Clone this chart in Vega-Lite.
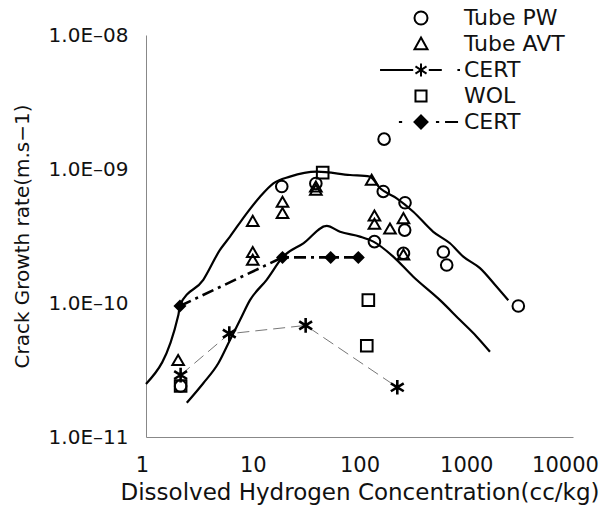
{
  "$schema": "https://vega.github.io/schema/vega-lite/v6.json",
  "width": 427,
  "height": 402,
  "autosize": {"type": "none"},
  "padding": {"left": 146, "top": 35, "right": 26, "bottom": 73},
  "background": "white",
  "config": {
    "view": {"stroke": null},
    "axis": {"grid": false, "ticks": false, "domainColor": "#888", "domainWidth": 1, "labelFont": "DejaVu Sans", "titleFont": "DejaVu Sans", "labelColor": "#111", "titleColor": "#111", "titleFontWeight": "normal"},
    "legend": {"symbolStrokeWidth": 2}
  },
  "datasets": {
    "curves": [
      {"c": "u", "x": 1.0, "y": 2.49e-11},
      {"c": "u", "x": 2.01, "y": 8.13e-11},
      {"c": "u", "x": 2.08, "y": 9.66e-11},
      {"c": "u", "x": 3.44, "y": 1.49e-10},
      {"c": "u", "x": 4.93, "y": 2.49e-10},
      {"c": "u", "x": 6.12, "y": 3.13e-10},
      {"c": "u", "x": 8.78, "y": 4.67e-10},
      {"c": "u", "x": 11.7, "y": 6.21e-10},
      {"c": "u", "x": 15.6, "y": 7.82e-10},
      {"c": "u", "x": 22.3, "y": 8.77e-10},
      {"c": "u", "x": 39.7, "y": 9.55e-10},
      {"c": "u", "x": 81.5, "y": 9.02e-10},
      {"c": "u", "x": 125, "y": 8.77e-10},
      {"c": "u", "x": 156, "y": 7.18e-10},
      {"c": "u", "x": 223, "y": 6.04e-10},
      {"c": "u", "x": 319, "y": 4.8e-10},
      {"c": "u", "x": 491, "y": 3.4e-10},
      {"c": "u", "x": 704, "y": 2.79e-10},
      {"c": "u", "x": 938, "y": 2.22e-10},
      {"c": "u", "x": 1345, "y": 1.82e-10},
      {"c": "u", "x": 1928, "y": 1.32e-10},
      {"c": "u", "x": 2477, "y": 1.05e-10},
      {"c": "l", "x": 2.41, "y": 1.8e-11},
      {"c": "l", "x": 3.44, "y": 2.52e-11},
      {"c": "l", "x": 4.76, "y": 3.55e-11},
      {"c": "l", "x": 6.12, "y": 5.3e-11},
      {"c": "l", "x": 7.6, "y": 7.46e-11},
      {"c": "l", "x": 9.42, "y": 1.05e-10},
      {"c": "l", "x": 13.5, "y": 1.49e-10},
      {"c": "l", "x": 19.3, "y": 2.22e-10},
      {"c": "l", "x": 29.8, "y": 2.79e-10},
      {"c": "l", "x": 49.3, "y": 3.76e-10},
      {"c": "l", "x": 65.7, "y": 3.4e-10},
      {"c": "l", "x": 101, "y": 3.13e-10},
      {"c": "l", "x": 135, "y": 2.87e-10},
      {"c": "l", "x": 207, "y": 2.22e-10},
      {"c": "l", "x": 319, "y": 1.57e-10},
      {"c": "l", "x": 568, "y": 1.05e-10},
      {"c": "l", "x": 874, "y": 7.46e-11},
      {"c": "l", "x": 1253, "y": 5.61e-11},
      {"c": "l", "x": 1668, "y": 4.33e-11}
    ],
    "points": [
      {"series": "PW", "x": 18.7, "y": 7.4e-10},
      {"series": "PW", "x": 39, "y": 7.8e-10},
      {"series": "PW", "x": 167, "y": 6.8e-10},
      {"series": "PW", "x": 267, "y": 5.6e-10},
      {"series": "PW", "x": 265, "y": 3.5e-10},
      {"series": "PW", "x": 138, "y": 2.87e-10},
      {"series": "PW", "x": 258, "y": 2.35e-10},
      {"series": "PW", "x": 610, "y": 2.4e-10},
      {"series": "PW", "x": 656, "y": 1.92e-10},
      {"series": "PW", "x": 3075, "y": 9.5e-11},
      {"series": "PW", "x": 2.11, "y": 2.4e-11},
      {"series": "PW", "x": 170, "y": 1.67e-9},
      {"series": "AVT", "x": 2.0, "y": 3.76e-11},
      {"series": "AVT", "x": 10, "y": 4.1e-10},
      {"series": "AVT", "x": 10, "y": 2.4e-10},
      {"series": "AVT", "x": 10, "y": 2.1e-10},
      {"series": "AVT", "x": 19, "y": 5.7e-10},
      {"series": "AVT", "x": 19, "y": 4.7e-10},
      {"series": "AVT", "x": 39, "y": 7.4e-10},
      {"series": "AVT", "x": 39, "y": 7.0e-10},
      {"series": "AVT", "x": 130, "y": 8.3e-10},
      {"series": "AVT", "x": 138, "y": 4.5e-10},
      {"series": "AVT", "x": 138, "y": 3.9e-10},
      {"series": "AVT", "x": 193, "y": 3.6e-10},
      {"series": "AVT", "x": 258, "y": 4.3e-10},
      {"series": "AVT", "x": 258, "y": 2.3e-10},
      {"series": "WOL", "x": 2.11, "y": 2.4e-11},
      {"series": "WOL", "x": 45.2, "y": 9.4e-10},
      {"series": "WOL", "x": 121, "y": 1.05e-10},
      {"series": "WOL", "x": 117, "y": 4.8e-11},
      {"series": "C1", "x": 2.11, "y": 2.9e-11},
      {"series": "C1", "x": 6.03, "y": 5.9e-11},
      {"series": "C1", "x": 31.3, "y": 6.8e-11},
      {"series": "C1", "x": 226, "y": 2.35e-11},
      {"series": "C2", "x": 2.08, "y": 9.5e-11},
      {"series": "C2", "x": 19, "y": 2.19e-10},
      {"series": "C2", "x": 53.7, "y": 2.19e-10},
      {"series": "C2", "x": 97.5, "y": 2.19e-10}
    ]
  },
  "layer": [
    {
      "data": {"name": "curves"},
      "mark": {"type": "line", "interpolate": "monotone", "color": "black", "strokeWidth": 2.2},
      "encoding": {
        "x": {"field": "x", "type": "quantitative", "scale": {"type": "log", "domain": [1, 10000], "nice": false},
          "axis": {"values": [1, 10, 100, 1000, 10000], "format": "d", "labelFontSize": 21, "labelPadding": 17, "labelFlush": false,
            "labelOffset": {"condition": [{"test": "datum.value >= 10000", "value": -8}, {"test": "datum.value <= 1", "value": -4}], "value": 0},
            "title": "Dissolved Hydrogen Concentration(cc/kg)", "titleFontSize": 23, "titlePadding": 6}},
        "y": {"field": "y", "type": "quantitative", "scale": {"type": "log", "domain": [1e-11, 1e-8], "nice": false},
          "axis": {"values": [1e-11, 1e-10, 1e-9, 1e-8], "labelFontSize": 20, "labelPadding": 18,
            "labelExpr": "'1.0E–' + (round(-log(datum.value)/LN10) < 10 ? '0' : '') + round(-log(datum.value)/LN10)",
            "title": "Crack Growth rate(m.s−1)", "titleFontSize": 20, "titlePadding": 16}},
        "detail": {"field": "c", "type": "nominal"}
      }
    },
    {
      "data": {"name": "points"},
      "transform": [{"filter": "datum.series == 'C1'"}],
      "mark": {"type": "line", "color": "#777", "strokeWidth": 1, "strokeDash": [12, 6]},
      "encoding": {
        "x": {"field": "x", "type": "quantitative", "scale": {"type": "log", "domain": [1, 10000], "nice": false}},
        "y": {"field": "y", "type": "quantitative", "scale": {"type": "log", "domain": [1e-11, 1e-8], "nice": false}}
      }
    },
    {
      "data": {"name": "points"},
      "transform": [{"filter": "datum.series == 'C2'"}],
      "mark": {"type": "line", "color": "black", "strokeWidth": 2.6, "strokeDash": [12, 5, 3, 5]},
      "encoding": {
        "x": {"field": "x", "type": "quantitative", "scale": {"type": "log", "domain": [1, 10000], "nice": false}},
        "y": {"field": "y", "type": "quantitative", "scale": {"type": "log", "domain": [1e-11, 1e-8], "nice": false}}
      }
    },
    {
      "data": {"name": "points"},
      "transform": [{"filter": "datum.series == 'PW' || datum.series == 'AVT' || datum.series == 'WOL'"}],
      "mark": {"type": "point", "filled": false, "stroke": "black", "strokeWidth": 2, "opacity": 1, "size": 135},
      "encoding": {
        "x": {"field": "x", "type": "quantitative", "scale": {"type": "log", "domain": [1, 10000], "nice": false}},
        "y": {"field": "y", "type": "quantitative", "scale": {"type": "log", "domain": [1e-11, 1e-8], "nice": false}},
        "shape": {"field": "series", "type": "nominal", "legend": null,
          "scale": {"domain": ["PW", "AVT", "WOL"], "range": ["circle", "triangle-up", "square"]}}
      }
    },
    {
      "data": {"name": "points"},
      "transform": [{"filter": "datum.series == 'C1'"}],
      "mark": {"type": "point", "filled": false, "stroke": "black", "strokeWidth": 2.6, "opacity": 1, "size": 150, "shape": "M0,-1.2V1.2M-1.05,-0.65L1.05,0.65M-1.05,0.65L1.05,-0.65"},
      "encoding": {
        "x": {"field": "x", "type": "quantitative", "scale": {"type": "log", "domain": [1, 10000], "nice": false}},
        "y": {"field": "y", "type": "quantitative", "scale": {"type": "log", "domain": [1e-11, 1e-8], "nice": false}}
      }
    },
    {
      "data": {"name": "points"},
      "transform": [{"filter": "datum.series == 'C2'"}],
      "mark": {"type": "point", "filled": true, "color": "black", "opacity": 1, "size": 169, "shape": "diamond"},
      "encoding": {
        "x": {"field": "x", "type": "quantitative", "scale": {"type": "log", "domain": [1, 10000], "nice": false}},
        "y": {"field": "y", "type": "quantitative", "scale": {"type": "log", "domain": [1e-11, 1e-8], "nice": false}}
      }
    },
    {
      "data": {"name": "points"},
      "transform": [{"filter": "false"}],
      "mark": {"type": "point", "filled": true, "strokeWidth": 2, "opacity": 1},
      "encoding": {
        "x": {"field": "x", "type": "quantitative", "scale": {"type": "log", "domain": [1, 10000], "nice": false}},
        "y": {"field": "y", "type": "quantitative", "scale": {"type": "log", "domain": [1e-11, 1e-8], "nice": false}},
        "shape": {"field": "series", "type": "nominal",
          "scale": {"domain": ["PW", "AVT", "C1", "WOL", "C2"], "range": ["M-6.3,0h0M6.2,0h0M0,-1A1,1,0,1,1,0,1A1,1,0,1,1,0,-1Z", "M-6.3,0h0M6.2,0h0M0,-1L1,0.8L-1,0.8Z", "M-6.3,0H-1.2M1.2,0H3.2M5.6,0H6.0M0,-1V1M-0.85,-0.55L0.85,0.55M-0.85,0.55L0.85,-0.55", "M-6.3,0h0M6.2,0h0M-0.85,-0.85H0.85V0.85H-0.85Z", "M-6.3,0h0M-3.4,0H-2.9M2.3,0H2.8M3.7,0H5.7M0,-1L1,0L0,1L-1,0Z"]},
          "legend": {"orient": "none", "legendX": 264, "legendY": -28, "title": null, "padding": 0, "labelFont": "DejaVu Sans", "labelFontSize": 22, "labelColor": "#111", "symbolSize": 169, "symbolStrokeWidth": 2, "labelOffset": 32, "rowPadding": 4,
            "labelExpr": "datum.value == 'PW' ? 'Tube PW' : datum.value == 'AVT' ? 'Tube AVT' : datum.value == 'WOL' ? 'WOL' : 'CERT'"}},
        "fill": {"field": "series", "type": "nominal",
          "scale": {"domain": ["PW", "AVT", "C1", "WOL", "C2"], "range": ["transparent", "transparent", "transparent", "transparent", "black"]},
          "legend": {"orient": "none", "legendX": 264, "legendY": -28, "title": null, "padding": 0, "labelFont": "DejaVu Sans", "labelFontSize": 22, "labelColor": "#111", "symbolSize": 169, "symbolStrokeWidth": 2, "labelOffset": 32, "rowPadding": 4,
            "labelExpr": "datum.value == 'PW' ? 'Tube PW' : datum.value == 'AVT' ? 'Tube AVT' : datum.value == 'WOL' ? 'WOL' : 'CERT'"}},
        "stroke": {"field": "series", "type": "nominal",
          "scale": {"domain": ["PW", "AVT", "C1", "WOL", "C2"], "range": ["black", "black", "black", "black", "black"]},
          "legend": {"orient": "none", "legendX": 264, "legendY": -28, "title": null, "padding": 0, "labelFont": "DejaVu Sans", "labelFontSize": 22, "labelColor": "#111", "symbolSize": 169, "symbolStrokeWidth": 2, "labelOffset": 32, "rowPadding": 4,
            "labelExpr": "datum.value == 'PW' ? 'Tube PW' : datum.value == 'AVT' ? 'Tube AVT' : datum.value == 'WOL' ? 'WOL' : 'CERT'"}}
      }
    }
  ],
  "resolve": {"scale": {"shape": "independent", "fill": "independent", "stroke": "independent"}}
}
